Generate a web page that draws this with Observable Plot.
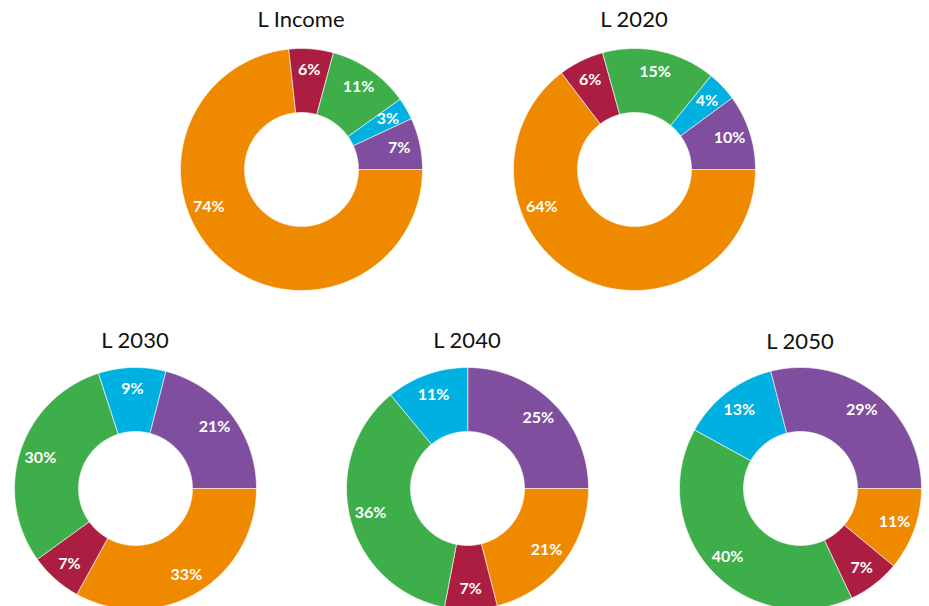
<!DOCTYPE html>
<html><head><meta charset="utf-8">
<script src="https://cdn.jsdelivr.net/npm/d3@7"></script>
<script src="https://cdn.jsdelivr.net/npm/@observablehq/plot@0.6"></script>
<style>
html,body{margin:0;padding:0;background:#fff;width:929px;height:606px;overflow:hidden;position:relative;font-family:Lato,"Open Sans",sans-serif}
.title{position:absolute;width:240px;text-align:center;font-size:22px;line-height:26px;color:#111}
.donut{position:absolute}
</style></head><body>
<script>
// ---- data ----
const chartTitles = ["L Income", "L 2020", "L 2030", "L 2040", "L 2050"];
const categories = ["Segment 1", "Segment 2", "Segment 3", "Segment 4", "Segment 5"];
const colors = ["#7f4e9e", "#00b0e0", "#3dae4a", "#ac1d42", "#ef8a00"];
const valuesIncome = [7, 3, 11, 6, 74];
const values2020 = [10, 4, 15, 6, 64];
const values2030 = [21, 9, 30, 7, 33];
const values2040 = [25, 11, 36, 7, 21];
const values2050 = [29, 13, 40, 7, 11];
const allValues = [valuesIncome, values2020, values2030, values2040, values2050];

// ---- layout (page coordinates) ----
const layout = [
  {cx: 301, cy: 169, ty: 19},
  {cx: 634, cy: 169, ty: 19},
  {cx: 135, cy: 488, ty: 340},
  {cx: 467, cy: 488, ty: 340},
  {cx: 800, cy: 488, ty: 341}
];
const R_OUT = 121, R_IN = 57, R_LABEL = 100, HALF = 125;

chartTitles.forEach((title, i) => {
  const vals = allValues[i];
  const total = d3.sum(vals);
  let acc = 0;
  const pts = [], labels = [];
  vals.forEach((v, j) => {
    const a0 = acc / total * 2 * Math.PI;
    acc += v;
    const a1 = acc / total * 2 * Math.PI;
    const n = Math.max(2, Math.ceil((a1 - a0) / (Math.PI / 180)));
    for (let k = 0; k <= n; k++) {
      const a = a0 + (a1 - a0) * k / n;
      pts.push({cat: categories[j], x: R_OUT * Math.cos(a), y: R_OUT * Math.sin(a)});
    }
    for (let k = n; k >= 0; k--) {
      const a = a0 + (a1 - a0) * k / n;
      pts.push({cat: categories[j], x: R_IN * Math.cos(a), y: R_IN * Math.sin(a)});
    }
    // large slices carry their label on the left side of the ring
    const am = v / total > 0.5 ? 202 * Math.PI / 180 : (a0 + a1) / 2;
    labels.push({x: R_LABEL * Math.cos(am), y: R_LABEL * Math.sin(am), text: v + "%"});
  });

  const chart = Plot.plot({
    width: 2 * HALF, height: 2 * HALF, margin: 0,
    x: {domain: [-HALF, HALF], axis: null},
    y: {domain: [-HALF, HALF], axis: null},
    color: {type: "ordinal", domain: categories, range: colors},
    style: {background: "transparent", overflow: "visible"},
    marks: [
      Plot.line(pts, {x: "x", y: "y", z: "cat", fill: "cat", stroke: "white", strokeWidth: 0.6, curve: "linear-closed"}),
      Plot.text(labels, {x: "x", y: "y", text: "text", fill: "white", fontSize: 16, fontWeight: 700, fontFamily: "Lato, 'Open Sans', sans-serif"})
    ]
  });
  chart.classList.add("donut");
  chart.style.left = (layout[i].cx - HALF) + "px";
  chart.style.top = (layout[i].cy - HALF) + "px";
  document.body.appendChild(chart);

  const t = document.createElement("div");
  t.className = "title";
  t.textContent = title;
  t.style.left = (layout[i].cx - 120) + "px";
  t.style.top = (layout[i].ty - 13) + "px";
  document.body.appendChild(t);
});
</script>
</body></html>
